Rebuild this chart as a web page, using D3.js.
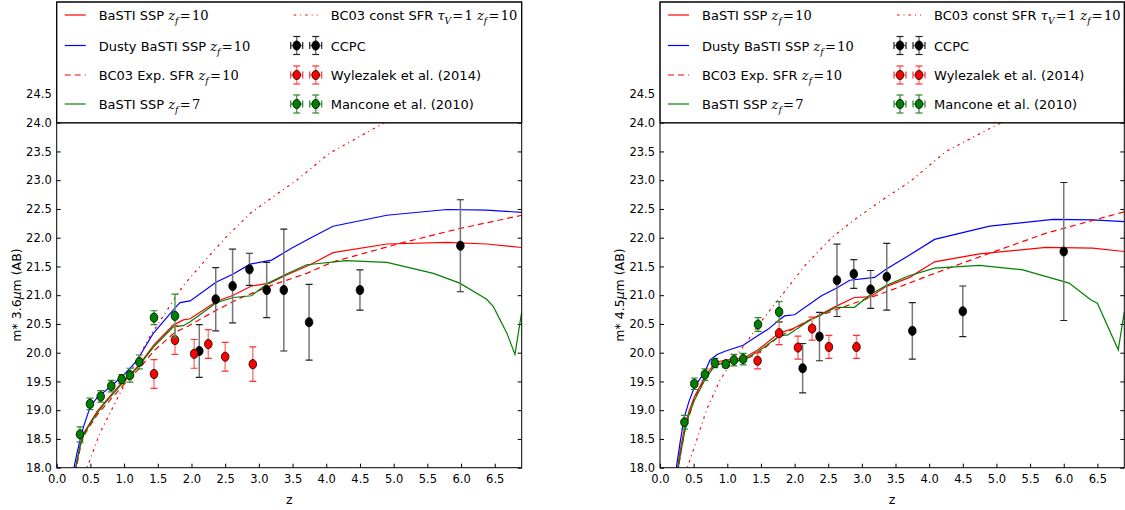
<!DOCTYPE html>
<html>
<head>
<meta charset="utf-8">
<script src="https://cdn.jsdelivr.net/npm/d3@7"></script>
<style>
  body { margin: 0; background: #fff; }
  text { font-family: "DejaVu Sans", sans-serif; }
</style>
</head>
<body>
<div id="chart"></div>
<script>
// model curves, [z, m*]
const bastiZf10_36 = [[0.27,17.9],[0.3,18.12],[0.35,18.4],[0.4,18.6],[0.5,18.79],[0.6,18.98],[0.7,19.12],[0.81,19.27],[0.96,19.47],[1.1,19.63],[1.23,19.8],[1.44,20.13],[1.73,20.48],[1.88,20.57],[1.98,20.59],[2.37,20.89],[2.62,21.0],[2.89,21.16],[3.16,21.21],[3.41,21.35],[3.76,21.53],[4.1,21.74],[4.9,21.89],[5.79,21.92],[6.38,21.89],[6.9,21.83]];
const dustyZf10_36 = [[0.24,17.9],[0.3,18.25],[0.35,18.5],[0.4,18.72],[0.5,19.07],[0.6,19.22],[0.81,19.42],[1.0,19.62],[1.19,19.86],[1.43,20.33],[1.75,20.77],[1.83,20.87],[1.98,20.9],[2.37,21.23],[2.62,21.37],[2.87,21.54],[3.19,21.61],[3.49,21.82],[3.76,21.99],[4.1,22.2],[4.9,22.39],[5.79,22.49],[6.38,22.48],[6.9,22.44]];
const bc03Exp_36 = [[0.28,17.9],[0.3,18.05],[0.35,18.35],[0.4,18.55],[0.5,18.74],[0.6,18.92],[0.81,19.2],[1.0,19.45],[1.23,19.73],[1.44,20.03],[1.75,20.35],[1.93,20.45],[2.37,20.74],[2.72,20.95],[3.21,21.18],[3.71,21.38],[4.1,21.58],[5.09,21.9],[5.98,22.16],[6.9,22.39]];
const bastiZf7_36 = [[0.27,17.9],[0.3,18.1],[0.35,18.38],[0.4,18.58],[0.5,18.77],[0.6,18.95],[0.7,19.1],[0.81,19.25],[0.96,19.45],[1.1,19.61],[1.23,19.79],[1.44,20.1],[1.73,20.45],[1.88,20.47],[1.98,20.54],[2.37,20.87],[2.62,20.96],[2.89,20.99],[3.14,21.21],[3.41,21.37],[3.71,21.53],[4.3,21.6],[4.9,21.57],[5.59,21.38],[5.98,21.21],[6.38,20.93],[6.48,20.8],[6.68,20.34],[6.8,19.97],[6.9,20.71]];
const bc03Const_36 = [[0.43,17.9],[0.45,18.0],[0.64,18.6],[0.89,19.18],[1.14,19.76],[1.38,20.28],[1.61,20.69],[1.88,21.17],[2.23,21.64],[2.52,22.02],[2.87,22.42],[3.21,22.71],[3.56,23.0],[4.05,23.47],[4.85,23.99],[5.5,24.4],[6.9,25.2]];

const bastiZf10_45 = [[0.25,17.9],[0.3,18.3],[0.363,18.69],[0.43,18.98],[0.51,19.23],[0.668,19.58],[0.816,19.83],[0.977,19.87],[1.236,19.9],[1.457,20.05],[1.77,20.34],[1.98,20.42],[2.25,20.58],[2.62,20.81],[2.89,20.96],[3.12,20.97],[3.36,21.15],[3.71,21.31],[4.08,21.58],[4.75,21.72],[5.74,21.83],[6.43,21.82],[6.9,21.76]];
const dustyZf10_45 = [[0.23,17.9],[0.3,18.45],[0.363,18.89],[0.43,19.15],[0.51,19.4],[0.668,19.67],[0.742,19.87],[0.85,19.97],[0.977,20.03],[1.236,20.13],[1.457,20.3],[1.61,20.41],[1.77,20.57],[1.85,20.64],[2.0,20.66],[2.4,20.99],[2.62,21.12],[2.82,21.26],[3.19,21.31],[3.36,21.45],[3.71,21.7],[4.08,21.97],[4.9,22.2],[5.84,22.32],[6.43,22.31],[6.9,22.28]];
const bc03Exp_45 = [[0.26,17.9],[0.3,18.2],[0.363,18.62],[0.51,19.2],[0.668,19.55],[0.816,19.79],[1.0,19.84],[1.236,19.87],[1.457,19.99],[1.77,20.28],[2.27,20.6],[2.88,20.86],[3.37,21.06],[4.08,21.38],[4.9,21.73],[5.74,22.08],[6.9,22.45]];
const bastiZf7_45 = [[0.26,17.9],[0.3,18.2],[0.363,18.6],[0.43,18.92],[0.51,19.17],[0.668,19.53],[0.816,19.78],[0.977,19.83],[1.236,19.87],[1.457,20.02],[1.77,20.29],[1.9,20.31],[2.22,20.56],[2.62,20.79],[2.89,20.79],[3.14,21.02],[3.36,21.17],[3.68,21.33],[4.08,21.47],[4.75,21.52],[5.39,21.44],[6.08,21.21],[6.4,20.92],[6.5,20.86],[6.81,20.05],[6.9,20.71]];
const bc03Const_45 = [[0.39,17.9],[0.405,18.0],[0.545,18.48],[0.69,19.0],[0.89,19.52],[1.1,19.9],[1.3,20.2],[1.48,20.51],[1.83,21.03],[2.18,21.55],[2.57,22.02],[2.92,22.34],[3.31,22.66],[3.71,22.97],[4.25,23.5],[5.0,23.96],[6.9,25.0]];

// observed points, [z, m*, error]
const mancone36 = [[0.346,18.58,0.13],[0.494,19.11,0.1],[0.653,19.24,0.1],[0.81,19.42,0.1],[0.964,19.54,0.08],[1.088,19.61,0.12],[1.226,19.84,0.12],[1.444,20.61,0.12],[1.755,20.64,0.38]];
const wylezalek36 = [[1.444,19.63,0.25],[1.755,20.22,0.25],[2.04,19.98,0.25],[2.25,20.15,0.25],[2.5,19.93,0.25],[2.91,19.8,0.3]];
const ccpc36 = [[2.116,20.03,0.46],[2.36,20.93,0.55],[2.61,21.16,0.64],[2.86,21.45,0.28],[3.116,21.09,0.48],[3.37,21.09,1.06],[3.745,20.53,0.66],[4.5,21.09,0.35],[5.99,21.86,0.8]];

const mancone45 = [[0.363,18.79,0.12],[0.51,19.46,0.1],[0.668,19.62,0.1],[0.816,19.82,0.08],[0.977,19.8,0.06],[1.098,19.87,0.1],[1.236,19.89,0.1],[1.457,20.49,0.12],[1.77,20.71,0.18]];
const wylezalek45 = [[1.45,19.86,0.14],[1.77,20.34,0.2],[2.05,20.09,0.2],[2.26,20.42,0.2],[2.51,20.1,0.2],[2.92,20.1,0.2]];
const ccpc45 = [[2.12,19.73,0.43],[2.37,20.28,0.42],[2.63,21.26,0.63],[2.88,21.37,0.25],[3.13,21.1,0.33],[3.37,21.32,0.58],[3.75,20.38,0.49],[4.5,20.72,0.44],[6.0,21.76,1.2]];

const xTicks = d3.range(0, 6.51, 0.5);
const yTicks = d3.range(18, 24.51, 0.5);

const W = 1125, H = 510;
const plotTop = 2, plotBottom = 467.7;

const lineStyles = {
  basti: {color: "#ff0000", dash: null},
  dusty: {color: "#0000ff", dash: null},
  exp: {color: "#ff0000", dash: "6,4"},
  zf7: {color: "#008000", dash: null},
  cst: {color: "#ff0000", dash: "2.5,4,1,4"}
};
const pointStyles = {
  ccpc: {fill: "#000", bar: "#777", cap: "#222"},
  wyl: {fill: "#ff0000", bar: "#ff8080", cap: "#ff3030"},
  manc: {fill: "#008000", bar: "#55a055", cap: "#2a8a2a"}
};

const svg = d3.select("#chart").append("svg")
  .attr("width", W)
  .attr("height", H);

const hair = "\u200A";
function mathZf(n) {
  return [{t: "z", m: 1}, {t: "f", sub: 1}, {t: hair + "=" + hair + n, m: 1, up: 1}];
}

const legendCol1 = [
  {key: "basti", label: [{t: "BaSTI SSP "}, ...mathZf(10)]},
  {key: "dusty", label: [{t: "Dusty BaSTI SSP "}, ...mathZf(10)]},
  {key: "exp", label: [{t: "BC03 Exp. SFR "}, ...mathZf(10)]},
  {key: "zf7", label: [{t: "BaSTI SSP "}, ...mathZf(7)]}
];
const legendCol2 = [
  {key: "cst", line: true, label: [{t: "BC03 const SFR "}, {t: "τ", m: 1}, {t: "V", sub: 1}, {t: hair + "=" + hair + "1 ", m: 1, up: 1}, ...mathZf(10)]},
  {key: "ccpc", label: [{t: "CCPC"}]},
  {key: "wyl", label: [{t: "Wylezalek et al. (2014)"}]},
  {key: "manc", label: [{t: "Mancone et al. (2010)"}]}
];

function richText(g, x, y, parts) {
  const text = g.append("text")
    .attr("x", x)
    .attr("y", y)
    .attr("font-size", 13)
    .attr("fill", "#000");
  let shifted = false;
  for (const p of parts) {
    const ts = text.append("tspan").text(p.t);
    if (p.m) {
      ts.attr("font-family", "'DejaVu Serif', serif")
        .attr("font-style", p.up ? "normal" : "italic")
        .attr("font-size", 13);
    }
    if (p.sub) {
      ts.attr("font-family", "'DejaVu Serif', serif")
        .attr("font-style", "italic")
        .attr("font-size", 9)
        .attr("dy", 4);
      shifted = true;
    } else if (shifted) {
      ts.attr("dy", -4);
      shifted = false;
    }
  }
}

function errorMark(g, cx, cy, ey, ex, st) {
  g.append("line")
    .attr("x1", cx).attr("x2", cx)
    .attr("y1", cy - ey).attr("y2", cy + ey)
    .attr("stroke", st.bar).attr("stroke-width", 1.5);
  for (const yy of [cy - ey, cy + ey]) {
    g.append("line")
      .attr("x1", cx - 3.5).attr("x2", cx + 3.5)
      .attr("y1", yy).attr("y2", yy)
      .attr("stroke", st.cap).attr("stroke-width", 1.2);
  }
  if (ex) {
    g.append("line")
      .attr("x1", cx - ex).attr("x2", cx + ex)
      .attr("y1", cy).attr("y2", cy)
      .attr("stroke", st.bar).attr("stroke-width", 1.5);
    for (const xx of [cx - ex, cx + ex]) {
      g.append("line")
        .attr("x1", xx).attr("x2", xx)
        .attr("y1", cy - 3.5).attr("y2", cy + 3.5)
        .attr("stroke", st.cap).attr("stroke-width", 1.2);
    }
  }
  g.append("ellipse")
    .attr("cx", cx).attr("cy", cy)
    .attr("rx", 3.8).attr("ry", 4.6)
    .attr("fill", st.fill)
    .attr("stroke", "#000").attr("stroke-width", 0.8);
}

function drawPanel(p, idx) {
  const x = d3.scaleLinear().domain([0, 6.9]).range([p.x0, p.x1]);
  const y = d3.scaleLinear().domain([18, 24]).range([plotBottom, 122.7]);
  const g = svg.append("g");

  const clipId = "clip" + idx;
  g.append("clipPath").attr("id", clipId)
    .append("rect")
    .attr("x", p.x0).attr("y", plotTop)
    .attr("width", p.x1 - p.x0).attr("height", plotBottom - plotTop);

  // axes: ticks point inward
  g.append("g")
    .attr("transform", `translate(0,${plotBottom})`)
    .call(d3.axisBottom(x).tickValues(xTicks).tickSize(-4).tickPadding(7).tickFormat(d3.format(".1f")))
    .call(a => a.select(".domain").remove())
    .call(a => a.selectAll("text").attr("font-size", 11.5).attr("font-family", "DejaVu Sans"));
  g.append("g")
    .attr("transform", `translate(${p.x0},0)`)
    .call(d3.axisLeft(y).tickValues(yTicks).tickSize(-4).tickPadding(5).tickFormat(d3.format(".1f")))
    .call(a => a.select(".domain").remove())
    .call(a => a.selectAll("text").attr("font-size", 11.5).attr("font-family", "DejaVu Sans"));
  g.append("g")
    .attr("transform", `translate(${p.x1},0)`)
    .call(d3.axisRight(y).tickValues(yTicks).tickSize(-4).tickFormat(""))
    .call(a => a.select(".domain").remove());

  const plot = g.append("g").attr("clip-path", `url(#${clipId})`);
  const line = d3.line().x(d => x(d[0])).y(d => y(d[1]));

  for (const s of p.lines) {
    const st = lineStyles[s.key];
    plot.append("path")
      .datum(s.data)
      .attr("d", line)
      .attr("fill", "none")
      .attr("stroke", st.color)
      .attr("stroke-width", 1.2)
      .attr("stroke-dasharray", st.dash);
  }

  for (const s of p.points) {
    const st = pointStyles[s.key];
    for (const d of s.data) {
      const cy = y(d[1]);
      errorMark(plot, x(d[0]), cy, y(d[1] - d[2]) - cy, 0, st);
    }
  }

  // legend box covers the top of the axes
  const lg = g.append("g");
  lg.append("rect")
    .attr("x", p.x0).attr("y", plotTop)
    .attr("width", p.x1 - p.x0).attr("height", y(24) - plotTop)
    .attr("fill", "#fff")
    .attr("stroke", "#000").attr("stroke-width", 1);
  lg.append("line")
    .attr("x1", p.x0).attr("x2", p.x1)
    .attr("y1", y(24)).attr("y2", y(24))
    .attr("stroke", "#222").attr("stroke-width", 1.6);

  const rows = [15, 45.5, 75, 104];
  legendCol1.forEach((e, i) => {
    const st = lineStyles[e.key];
    lg.append("line")
      .attr("x1", p.x0 + 8).attr("x2", p.x0 + 29)
      .attr("y1", rows[i]).attr("y2", rows[i])
      .attr("stroke", st.color).attr("stroke-width", 1.2)
      .attr("stroke-dasharray", st.dash);
    richText(lg, p.x0 + 42, rows[i] + 5, e.label);
  });
  legendCol2.forEach((e, i) => {
    if (e.line) {
      const st = lineStyles[e.key];
      lg.append("line")
        .attr("x1", p.x0 + 237).attr("x2", p.x0 + 261)
        .attr("y1", rows[i]).attr("y2", rows[i])
        .attr("stroke", st.color).attr("stroke-width", 1.2)
        .attr("stroke-dasharray", st.dash);
    } else {
      const st = pointStyles[e.key];
      errorMark(lg, p.x0 + 240, rows[i], 9, 6, st);
      errorMark(lg, p.x0 + 259, rows[i], 9, 6, st);
    }
    richText(lg, p.x0 + 274, rows[i] + 5, e.label);
  });

  // frame
  g.append("rect")
    .attr("x", p.x0).attr("y", plotTop)
    .attr("width", p.x1 - p.x0).attr("height", plotBottom - plotTop)
    .attr("fill", "none")
    .attr("stroke", "#000").attr("stroke-width", 1);

  g.append("text")
    .attr("x", (p.x0 + p.x1) / 2).attr("y", 504)
    .attr("text-anchor", "middle")
    .attr("font-size", 12.5)
    .text("z");

  const yl = g.append("text")
    .attr("transform", `translate(${p.x0 - 36},295) rotate(-90)`)
    .attr("text-anchor", "middle")
    .attr("font-size", 12.5);
  yl.append("tspan").text("m* " + p.band);
  yl.append("tspan").attr("font-style", "italic").text("μ");
  yl.append("tspan").text("m (AB)");
}

drawPanel({
  x0: 56.7, x1: 521.7, band: "3.6",
  lines: [
    {key: "basti", data: bastiZf10_36},
    {key: "dusty", data: dustyZf10_36},
    {key: "exp", data: bc03Exp_36},
    {key: "zf7", data: bastiZf7_36},
    {key: "cst", data: bc03Const_36}
  ],
  points: [
    {key: "ccpc", data: ccpc36},
    {key: "wyl", data: wylezalek36},
    {key: "manc", data: mancone36}
  ]
}, 0);

drawPanel({
  x0: 660, x1: 1124.3, band: "4.5",
  lines: [
    {key: "basti", data: bastiZf10_45},
    {key: "dusty", data: dustyZf10_45},
    {key: "exp", data: bc03Exp_45},
    {key: "zf7", data: bastiZf7_45},
    {key: "cst", data: bc03Const_45}
  ],
  points: [
    {key: "ccpc", data: ccpc45},
    {key: "wyl", data: wylezalek45},
    {key: "manc", data: mancone45}
  ]
}, 1);
</script>
</body>
</html>
